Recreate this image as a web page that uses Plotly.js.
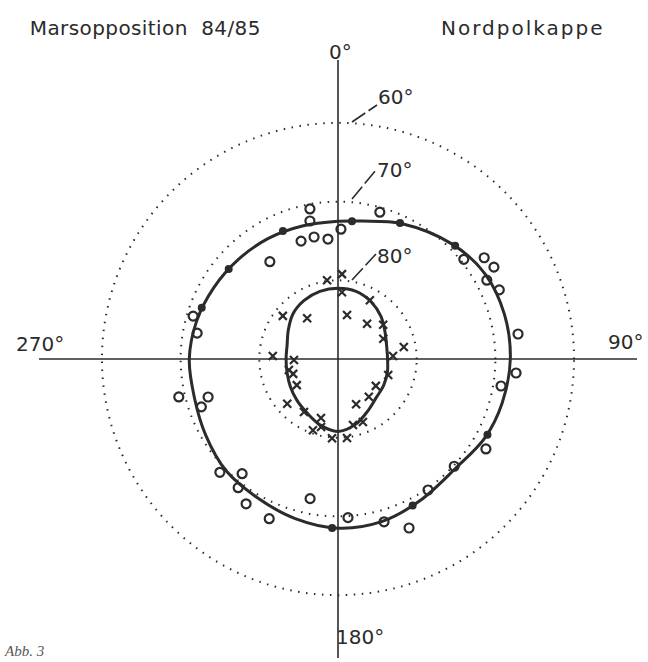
<!DOCTYPE html>
<html>
<head>
<meta charset="utf-8">
<script src="https://cdn.plot.ly/plotly-3.0.1.min.js"></script>
<style>
  html, body { margin: 0; padding: 0; background: #ffffff; }
  #chart { width: 648px; height: 662px; }
</style>
</head>
<body>
<div id="chart"></div>
<script>
// ---- Data: areographic longitude (deg) and latitude (deg) of the polar cap edge ----
// Smooth fitted outer boundary (early series)
const outerCurveLon = [0, 10, 25, 45, 60, 75, 90, 105, 118, 133, 150, 165, 180, 195, 210, 225, 240, 255, 270, 285, 300, 315, 330, 345, 360];
const outerCurveLat = [72.5, 72.2, 71.0, 69.4, 68.4, 68.1, 68.1, 68.4, 68.8, 69.6, 69.2, 68.6, 68.5, 69.0, 69.6, 69.9, 70.6, 71.1, 71.1, 71.4, 71.8, 72.1, 72.3, 72.5, 72.5];

// Smooth fitted inner boundary (late series)
const innerCurveLon = [0, 15, 30, 45, 60, 75, 90, 105, 120, 135, 150, 165, 180, 195, 210, 225, 240, 255, 270, 285, 300, 315, 330, 345, 360];
const innerCurveLat = [81.0, 81.1, 81.6, 82.3, 83.1, 83.6, 83.7, 83.5, 83.3, 83.1, 82.4, 81.4, 80.8, 81.3, 82.1, 82.6, 83.0, 83.3, 83.4, 83.3, 82.7, 81.9, 81.4, 81.1, 81.0];

// Open circles: single measurements, early series
const outerObsLon = [349.4, 348.5, 342.6, 348.9, 355.2, 1.3, 325.0, 286.5, 280.4, 15.9, 51.6, 55.3, 59.5, 62.1, 66.8, 82.1, 94.5, 99.4, 121.3, 132.7, 145.5, 164.2, 157.2, 176.4, 256.6, 253.7, 250.7, 226.2, 219.9, 217.8, 212.4, 203.3, 191.3];
const outerObsLat = [70.6, 72.1, 74.3, 74.2, 74.7, 73.5, 74.9, 70.8, 71.8, 70.6, 69.6, 67.4, 67.0, 68.6, 67.7, 66.9, 67.3, 69.0, 68.0, 69.9, 69.8, 68.5, 66.7, 69.8, 69.2, 72.8, 71.6, 69.2, 71.0, 69.3, 68.2, 67.9, 71.9];

// Filled dots: measurements lying on the fitted outer curve
const outerDotLon = [336.7, 309.5, 290.6, 5.8, 24.5, 46.0, 116.9, 153.0, 182.0];
const outerDotLat = [72.3, 72.0, 71.5, 72.4, 71.0, 69.3, 68.7, 69.1, 68.5];

// Crosses: single measurements, late series
const innerObsLon = [2.7, 352.1, 3.4, 28.5, 308.0, 322.9, 11.6, 39.6, 52.9, 66.0, 79.7, 86.9, 272.6, 268.7, 257.3, 251.6, 237.6, 107.7, 125.4, 140.8, 158.2, 228.6, 212.7, 196.1, 158.4, 167.2, 199.4, 194.0, 184.3, 173.5];
const innerObsLat = [79.2, 79.9, 81.5, 81.5, 81.1, 83.5, 84.3, 84.2, 82.8, 83.7, 81.5, 83.0, 81.7, 84.4, 83.6, 84.0, 83.8, 83.3, 84.1, 83.8, 83.8, 81.4, 82.0, 82.2, 81.4, 81.4, 80.4, 81.1, 79.9, 79.9];

// Latitude circles and axis labels
const latCircles = [60, 70, 80];
const lonAxes = [0, 90, 180, 270];

const ink = '#2b2b2b';
const colat = arr => arr.map(v => 90 - v);

const traces = [
  { type: 'scatterpolar', mode: 'lines', theta: outerCurveLon, r: colat(outerCurveLat),
    line: { color: ink, width: 3, shape: 'spline', smoothing: 1 }, hoverinfo: 'skip' },
  { type: 'scatterpolar', mode: 'lines', theta: innerCurveLon, r: colat(innerCurveLat),
    line: { color: ink, width: 3, shape: 'spline', smoothing: 1 }, hoverinfo: 'skip' },
  { type: 'scatterpolar', mode: 'markers', theta: outerObsLon, r: colat(outerObsLat),
    marker: { symbol: 'circle-open', size: 9, color: ink, line: { width: 2.2, color: ink } } },
  { type: 'scatterpolar', mode: 'markers', theta: outerDotLon, r: colat(outerDotLat),
    marker: { symbol: 'circle', size: 8, color: ink } },
  { type: 'scatterpolar', mode: 'markers', theta: innerObsLon, r: colat(innerObsLat),
    marker: { symbol: 'x-thin-open', size: 8, color: ink, line: { width: 2.2, color: ink } } }
];

const W = 648, H = 662;
const cx = 338, cy = 359, R = 299;
const px = x => x / W, py = y => 1 - y / H;

const fontMain = { family: 'DejaVu Sans', size: 20, color: ink };

const annotations = [
  { text: 'Marsopposition  84/85', x: px(32), y: py(28), xanchor: 'left', yanchor: 'middle', font: { family: 'DejaVu Sans', size: 20, color: ink } },
  { text: 'Nordpolkappe', x: px(451), y: py(28), xanchor: 'left', yanchor: 'middle', font: { family: 'DejaVu Sans', size: 20, color: ink } },
  { text: lonAxes[0] + '°', x: px(340), y: py(52), xanchor: 'center', yanchor: 'middle', font: fontMain },
  { text: lonAxes[1] + '°', x: px(645), y: py(342), xanchor: 'right', yanchor: 'middle', font: fontMain },
  { text: lonAxes[2] + '°', x: px(334), y: py(637), xanchor: 'left', yanchor: 'middle', font: fontMain },
  { text: lonAxes[3] + '°', x: px(14), y: py(344), xanchor: 'left', yanchor: 'middle', font: fontMain },
  { text: latCircles[0] + '°', x: px(376), y: py(97), xanchor: 'left', yanchor: 'middle', font: fontMain },
  { text: latCircles[1] + '°', x: px(375), y: py(170), xanchor: 'left', yanchor: 'middle', font: fontMain },
  { text: latCircles[2] + '°', x: px(375), y: py(256), xanchor: 'left', yanchor: 'middle', font: fontMain },
  { text: '<i>Abb. 3</i>', x: px(2), y: py(651), xanchor: 'left', yanchor: 'middle', font: { family: 'Liberation Serif', size: 15, color: '#555555' } }
].map(a => Object.assign({ xref: 'paper', yref: 'paper', showarrow: false }, a));

const leader = (x0, y0, x1, y1) => ({ type: 'line', xref: 'paper', yref: 'paper',
  x0: px(x0), y0: py(y0), x1: px(x1), y1: py(y1), line: { color: ink, width: 1.6, dash: '16px,4px' } });

const shapes = [
  leader(352, 122, 377, 105),
  leader(352, 199, 376, 170),
  leader(352, 280, 376, 254)
];

const layout = {
  width: W, height: H,
  margin: { l: 0, r: 0, t: 0, b: 0, pad: 0 },
  paper_bgcolor: '#ffffff',
  showlegend: false,
  polar: {
    domain: { x: [px(cx - R), px(cx + R)], y: [py(cy + R), py(cy - R)] },
    bgcolor: 'rgba(0,0,0,0)',
    radialaxis: {
      range: [0, 38], tickvals: colat(latCircles), showticklabels: false, ticks: '',
      showline: false, showgrid: true, gridcolor: ink, gridwidth: 2, griddash: '1.5px,6.5px'
    },
    angularaxis: {
      rotation: 90, direction: 'clockwise', tickvals: lonAxes, showticklabels: false, ticks: '',
      showline: false, showgrid: true, gridcolor: ink, gridwidth: 1.6
    }
  },
  annotations: annotations,
  shapes: shapes
};

Plotly.newPlot('chart', traces, layout, { staticPlot: true, displayModeBar: false }).then(() => {
  // widen the stencil-style lettering of the two headings
  document.querySelectorAll('.annotation-text').forEach(t => {
    if (t.textContent.indexOf('Marsopposition') === 0) t.style.letterSpacing = '0.4px';
    if (t.textContent === 'Nordpolkappe') t.style.letterSpacing = '2px';
  });
});
</script>
</body>
</html>
